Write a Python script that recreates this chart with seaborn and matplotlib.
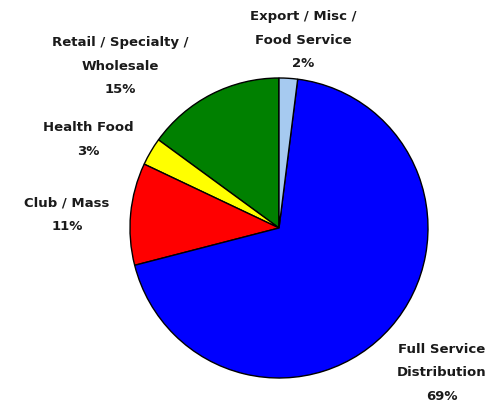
import matplotlib
matplotlib.use("Agg")
import matplotlib.pyplot as plt
import seaborn as sns

sns.set_theme(style="white")
plt.rcParams['font.family'] = ['DejaVu Sans']

segments = ["Retail / Specialty /\nWholesale", "Health Food", "Club / Mass",
            "Full Service\nDistribution", "Export / Misc /\nFood Service"]
shares = [15, 3, 11, 69, 2]
colors = ["#008000", "#FFFF00", "#FF0000", "#0000FF", "#A6CAF0"]

fig = plt.figure(figsize=(4.95, 4.07), dpi=100)
ax = fig.add_axes([130 / 495, 29 / 407, 298 / 495, 300 / 407])
ax.pie(shares, colors=colors, startangle=90, counterclock=True,
       wedgeprops={"edgecolor": "black", "linewidth": 1})
ax.set_aspect("auto")
ax.set_xlim(-1, 1)
ax.set_ylim(-1, 1)
ax.axis("off")

# label centers in pixels (x, y of first line)
label_pos = [(120, 43), (88, 128), (67, 203), (442, 350), (303, 17)]
for name, val, (px, py) in zip(segments, shares, label_pos):
    fig.text(px / 495, 1 - (py - 7) / 407, name + "\n" + str(val) + "%",
             ha="center", va="top", fontsize=9.5, fontweight="bold",
             color="#1a1a1a", linespacing=2.05,
             transform=fig.transFigure)

fig.savefig("out.png", dpi=100, facecolor="white")
